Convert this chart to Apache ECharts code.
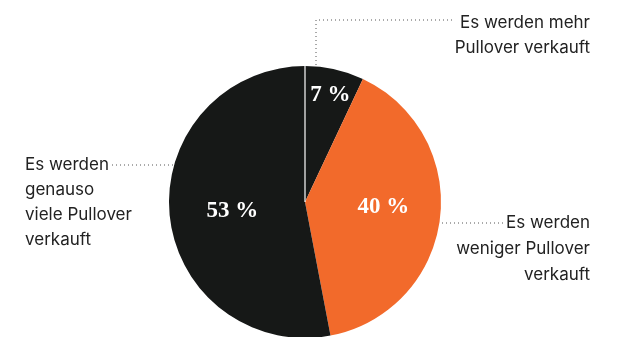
<!DOCTYPE html>
<html>
<head>
<meta charset="utf-8">
<script src="https://cdn.jsdelivr.net/npm/echarts@6/dist/echarts.min.js"></script>
<style>
  html, body { margin: 0; padding: 0; background: #ffffff; }
  #chart { width: 622px; height: 337px; }
</style>
</head>
<body>
<div id="chart"></div>
<script>
// Survey answers: share of respondents (percent)
const categories = ['mehr', 'weniger', 'genauso viele'];
const shares = [7, 40, 53];
const sliceColors = ['#161817', '#f26a2b', '#161817'];
const calloutTexts = [
  'Es werden mehr\nPullover verkauft',
  'Es werden\nweniger Pullover\nverkauft',
  'Es werden\ngenauso\nviele Pullover\nverkauft'
];

const cx = 305, cy = 202, radius = 136;

// nudges for the percentage labels inside the slices
const labelNudge = [[10, -38], [8, -4], [-2, 2]];

const chart = echarts.init(document.getElementById('chart'), null, { renderer: 'canvas' });

const dotted = { stroke: '#555555', lineWidth: 1, lineDash: [1, 3], fill: null };
const textFont = '17px Inter, Roboto, sans-serif';

chart.setOption({
  backgroundColor: '#ffffff',
  animation: false,
  series: [{
    type: 'pie',
    center: [cx, cy],
    radius: [0, radius],
    startAngle: 90,
    clockwise: true,
    silent: true,
    itemStyle: { borderWidth: 0 },
    label: {
      show: true,
      position: 'inside',
      formatter: p => p.value + ' %',
      color: '#ffffff',
      fontFamily: '"Liberation Serif", "DejaVu Serif", serif',
      fontWeight: 'bold',
      fontSize: 23
    },
    labelLine: { show: false },
    labelLayout: p => ({ dx: labelNudge[p.dataIndex][0], dy: labelNudge[p.dataIndex][1] }),
    data: categories.map((c, i) => ({
      name: c,
      value: shares[i],
      itemStyle: { color: sliceColors[i] }
    }))
  }],
  graphic: [
    // white divider along the start angle
    { type: 'line', z: 100, shape: { x1: cx, y1: cy, x2: cx, y2: cy - radius }, style: { stroke: '#ffffff', lineWidth: 1.2 } },
    // callout leader lines
    { type: 'polyline', shape: { points: [[316, 65], [316, 20], [455, 20]] }, style: dotted },
    { type: 'polyline', shape: { points: [[442, 223], [503, 223]] }, style: dotted },
    { type: 'polyline', shape: { points: [[112, 165], [173, 165]] }, style: dotted },
    // callout texts
    { type: 'text', style: { text: calloutTexts[0], x: 590, y: 10, textAlign: 'right', textVerticalAlign: 'top', font: textFont, lineHeight: 25, fill: '#222222' } },
    { type: 'text', style: { text: calloutTexts[1], x: 590, y: 210, textAlign: 'right', textVerticalAlign: 'top', font: textFont, lineHeight: 26, fill: '#222222' } },
    { type: 'text', style: { text: calloutTexts[2], x: 25, y: 152, textAlign: 'left', textVerticalAlign: 'top', font: textFont, lineHeight: 25, fill: '#222222' } }
  ]
});
</script>
</body>
</html>
